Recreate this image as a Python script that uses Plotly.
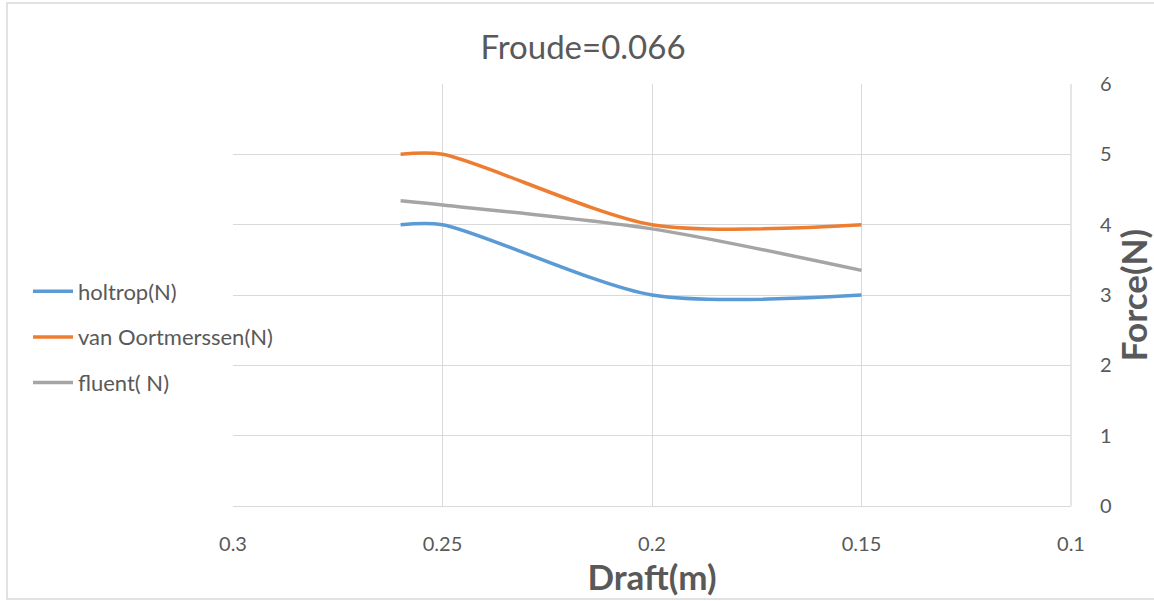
import plotly.graph_objects as go

draft = [0.26, 0.25, 0.2, 0.15]
holtrop = [4.0, 4.0, 3.0, 3.0]
van_oortmerssen = [5.0, 5.0, 4.0, 4.0]
fluent = [4.34, 4.28, 3.94, 3.35]

x_ticks = [0.3, 0.25, 0.2, 0.15, 0.1]
x_tick_text = ["0.3", "0.25", "0.2", "0.15", "0.1"]
y_ticks = [0, 1, 2, 3, 4, 5, 6]

names = ["holtrop(N)", "van Oortmerssen(N)", "fluent( N)"]
colors = ["#5B9BD5", "#ED7D31", "#A5A5A5"]
series = [holtrop, van_oortmerssen, fluent]

FONT = "Lato, 'Open Sans', sans-serif"
TXT = "#595959"

fig = go.Figure()
for i, (n, c, s) in enumerate(zip(names, colors, series)):
    fig.add_trace(go.Scatter(
        x=draft, y=s, name=n, mode="lines",
        line=dict(color=c, width=3.5, shape="spline", smoothing=0.8),
        legendgroup=f"g{i}",
    ))

W, H = 1154, 601
L, R, T, B = 233, 1154 - 1071, 84, 601 - 506
pw, ph = W - L - R, H - T - B

def px(x):
    return (x - L) / pw

def py(y):
    return (H - B - y) / ph

fig.update_layout(
    width=W, height=H,
    margin=dict(l=L, r=R, t=T, b=B, pad=0, autoexpand=False),
    paper_bgcolor="white", plot_bgcolor="white",
    font=dict(family=FONT, color=TXT, size=20),
    title=dict(text="Froude=0.066", xref="container", x=583 / W, xanchor="center",
               yref="container", y=1 - 47 / H, yanchor="middle",
               font=dict(family=FONT, size=33, color=TXT)),
    xaxis=dict(range=[0.3, 0.1], tickvals=x_ticks, ticktext=x_tick_text,
               automargin=False,
               showgrid=True, gridcolor="#D9D9D9", gridwidth=1.3,
               zeroline=False, showline=True, linecolor="#D9D9D9", linewidth=1.3,
               mirror=False, ticks="outside", ticklen=20, tickcolor="rgba(0,0,0,0)",
               tickfont=dict(family=FONT, size=20, color=TXT),
               title=dict(text="<b>Draft(m)</b>", standoff=6,
                          font=dict(family=FONT, size=35, color=TXT))),
    yaxis=dict(range=[0, 6], tickvals=y_ticks, side="right",
               automargin=False,
               showgrid=True, gridcolor="#D9D9D9", gridwidth=1.3,
               zeroline=False, showline=False,
               ticks="outside", ticklen=24, tickcolor="rgba(0,0,0,0)",
               tickfont=dict(family=FONT, size=20, color=TXT),
               title=dict(text="<b>Force(N)</b>", standoff=10,
                          font=dict(family=FONT, size=35, color=TXT))),
    legend=dict(x=px(28), xanchor="left", y=py(337), yanchor="middle",
                font=dict(family=FONT, size=22, color=TXT),
                tracegroupgap=14, itemwidth=40, bgcolor="rgba(0,0,0,0)"),
    showlegend=True,
)

# right gridline at 0.1 and outer chart border
fig.add_shape(type="line", xref="paper", yref="paper", x0=1, x1=1, y0=0, y1=1,
              line=dict(color="#D9D9D9", width=1.3))
fig.add_shape(type="rect", xref="paper", yref="paper",
              x0=px(7), x1=px(1170), y0=py(599), y1=py(3),
              line=dict(color="#D9D9D9", width=1.5), layer="below")

fig.write_html("out.html")
